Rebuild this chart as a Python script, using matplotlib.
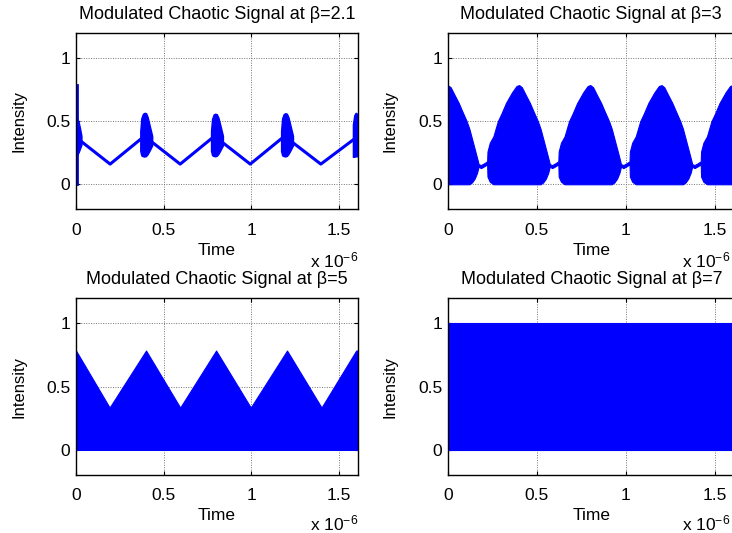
import matplotlib.pyplot as plt
import numpy as np

plt.rcParams['font.family'] = ['Liberation Sans', 'DejaVu Sans']
plt.rcParams['mathtext.default'] = 'regular'

nan = np.nan

# time values are in units of 1e-6 s (shown by the "x 10^-6" label)
betas = ["2.1", "3", "5", "7"]

# beta = 2.1 : slow triangle carrier + short chaotic bursts
tl_line_t = [0.000, 0.030, 0.195, 0.380, 0.420, 0.595, 0.780, 0.820, 0.995, 1.180, 1.220, 1.398, 1.585, 1.610]
tl_line_y = [0.360, 0.340, 0.160, 0.370, 0.350, 0.160, 0.370, 0.350, 0.160, 0.370, 0.350, 0.160, 0.355, 0.370]
tl_spike_t = [0.004, 0.004]
tl_spike_y = [0.000, 0.790]
tl_burst_t = [0.000, 0.008, 0.018, 0.026, 0.034, nan,
              0.370, 0.376, 0.385, 0.394, 0.403, 0.412, 0.424, 0.438, nan,
              0.774, 0.780, 0.789, 0.798, 0.807, 0.816, 0.828, 0.842, nan,
              1.174, 1.180, 1.189, 1.198, 1.207, 1.216, 1.228, 1.242, nan,
              1.584, 1.592, 1.600, 1.610]
tl_burst_hi = [0.520, 0.525, 0.490, 0.440, 0.380, nan,
               0.420, 0.520, 0.555, 0.563, 0.560, 0.530, 0.460, 0.380, nan,
               0.420, 0.515, 0.550, 0.556, 0.552, 0.525, 0.460, 0.380, nan,
               0.420, 0.520, 0.553, 0.560, 0.556, 0.528, 0.460, 0.380, nan,
               0.470, 0.545, 0.563, 0.555]
tl_burst_lo = [0.220, 0.225, 0.250, 0.280, 0.310, nan,
               0.260, 0.225, 0.218, 0.216, 0.220, 0.235, 0.265, 0.305, nan,
               0.262, 0.227, 0.220, 0.218, 0.222, 0.237, 0.267, 0.305, nan,
               0.260, 0.226, 0.219, 0.217, 0.221, 0.236, 0.266, 0.305, nan,
               0.214, 0.214, 0.218, 0.218]

# beta = 3 : teardrop shaped chaotic lobes
tr_t = [0.000, 0.015, 0.040, 0.060, 0.080, 0.105, 0.120, 0.135, 0.150, 0.163, 0.172,
        0.185, 0.205, 0.220,
        0.222, 0.235, 0.255, 0.280, 0.300, 0.326, 0.360, 0.385, 0.400, 0.415, 0.440, 0.460,
        0.480, 0.505, 0.520, 0.535, 0.550, 0.563, 0.572,
        0.585, 0.605, 0.620,
        0.622, 0.635, 0.655, 0.680, 0.700, 0.726, 0.760, 0.785, 0.800, 0.815, 0.840, 0.860,
        0.880, 0.905, 0.920, 0.935, 0.950, 0.963, 0.972,
        0.985, 1.005, 1.020,
        1.022, 1.035, 1.055, 1.080, 1.100, 1.126, 1.160, 1.185, 1.200, 1.215, 1.240, 1.260,
        1.280, 1.305, 1.320, 1.335, 1.350, 1.363, 1.372,
        1.385, 1.405, 1.420,
        1.422, 1.435, 1.455, 1.480, 1.500, 1.526, 1.560, 1.585, 1.600, 1.610]
tr_hi = [0.785, 0.770, 0.700, 0.646, 0.580, 0.500, 0.440, 0.360, 0.280, 0.210, 0.160,
         0.152, 0.168, 0.182,
         0.260, 0.330, 0.380, 0.500, 0.560, 0.646, 0.730, 0.780, 0.787, 0.770, 0.700, 0.646,
         0.580, 0.500, 0.440, 0.360, 0.280, 0.210, 0.160,
         0.152, 0.168, 0.182,
         0.260, 0.330, 0.380, 0.500, 0.560, 0.646, 0.730, 0.780, 0.787, 0.770, 0.700, 0.646,
         0.580, 0.500, 0.440, 0.360, 0.280, 0.210, 0.160,
         0.152, 0.168, 0.182,
         0.260, 0.330, 0.380, 0.500, 0.560, 0.646, 0.730, 0.780, 0.787, 0.770, 0.700, 0.646,
         0.580, 0.500, 0.440, 0.360, 0.280, 0.210, 0.160,
         0.152, 0.168, 0.182,
         0.260, 0.330, 0.380, 0.500, 0.560, 0.646, 0.730, 0.780, 0.787, 0.780]
tr_lo = [0.000, 0.000, 0.000, 0.000, 0.000, 0.000, 0.000, 0.015, 0.045, 0.090, 0.140,
         0.128, 0.144, 0.158,
         0.060, 0.020, 0.000, 0.000, 0.000, 0.000, 0.000, 0.000, 0.000, 0.000, 0.000, 0.000,
         0.000, 0.000, 0.000, 0.015, 0.045, 0.090, 0.140,
         0.128, 0.144, 0.158,
         0.060, 0.020, 0.000, 0.000, 0.000, 0.000, 0.000, 0.000, 0.000, 0.000, 0.000, 0.000,
         0.000, 0.000, 0.000, 0.015, 0.045, 0.090, 0.140,
         0.128, 0.144, 0.158,
         0.060, 0.020, 0.000, 0.000, 0.000, 0.000, 0.000, 0.000, 0.000, 0.000, 0.000, 0.000,
         0.000, 0.000, 0.000, 0.015, 0.045, 0.090, 0.140,
         0.128, 0.144, 0.158,
         0.060, 0.020, 0.000, 0.000, 0.000, 0.000, 0.000, 0.000, 0.000, 0.000]

# beta = 5 : band from 0 up to a triangle envelope
bl_t = [0.000, 0.192, 0.400, 0.595, 0.800, 0.998, 1.205, 1.402, 1.600, 1.610]
bl_hi = [0.785, 0.335, 0.785, 0.335, 0.785, 0.335, 0.785, 0.335, 0.785, 0.785]

# beta = 7 : fully developed chaos, 0..1
br_t = [0.000, 1.610]
br_hi = [1.000, 1.000]

fig = plt.figure(figsize=(7.32, 5.33), dpi=100)
boxes = [[0.1038, 0.607, 0.3852, 0.331], [0.612, 0.607, 0.3915, 0.331],
         [0.1038, 0.1083, 0.3852, 0.3326], [0.612, 0.1083, 0.3915, 0.3326]]
axs = [fig.add_axes(b) for b in boxes]

ax = axs[0]
ax.fill_between(tl_burst_t, tl_burst_lo, tl_burst_hi, color='b', lw=1.0)
ax.plot(tl_line_t, tl_line_y, color='b', lw=2.2, solid_joinstyle='round')
ax.plot(tl_spike_t, tl_spike_y, color='b', lw=2)

axs[1].fill_between(tr_t, tr_lo, tr_hi, color='b', lw=0.8)
axs[2].fill_between(bl_t, 0, bl_hi, color='b', lw=0.8)
axs[3].fill_between(br_t, 0, br_hi, color='b', lw=0.8)

fs = 12.5
for i, ax in enumerate(axs):
    ax.set_xlim(0, 1.61)
    ax.set_ylim(-0.2, 1.2)
    ax.set_xticks([0, 0.5, 1, 1.5])
    ax.set_xticklabels(['0', '0.5', '1', '1.5'])
    ax.set_yticks([0, 0.5, 1])
    ax.set_yticklabels(['0', '0.5', '1'])
    ax.tick_params(direction='in', top=True, right=True, length=3, width=0.8, labelsize=fs)
    ax.tick_params(axis='x', pad=9.5)
    ax.tick_params(axis='y', pad=4)
    ax.grid(True, color='0.45', linestyle=(0, (1, 1.5)), linewidth=0.7)
    ax.set_axisbelow(True)
    for s in ax.spines.values():
        s.set_linewidth(1.0)
    ax.set_title('Modulated Chaotic Signal at β=' + betas[i], fontsize=13, pad=10)
    ax.set_xlabel('Time', fontsize=fs)
    ax.set_ylabel('Intensity', fontsize=12)
    ax.yaxis.set_label_coords(-0.175, 0.5)
    top = i < 2
    ax.xaxis.set_label_coords(0.5, -0.19 if top else -0.186)
    # exponent label, kept inside the figure for the right column
    ex = 1.0 if i % 2 == 0 else 0.985
    ax.text(ex, -0.33 if top else -0.31, 'x 10$^{-6}$', transform=ax.transAxes,
            ha='right', va='baseline', fontsize=fs, clip_on=False)

fig.savefig('out.png', dpi=100)
